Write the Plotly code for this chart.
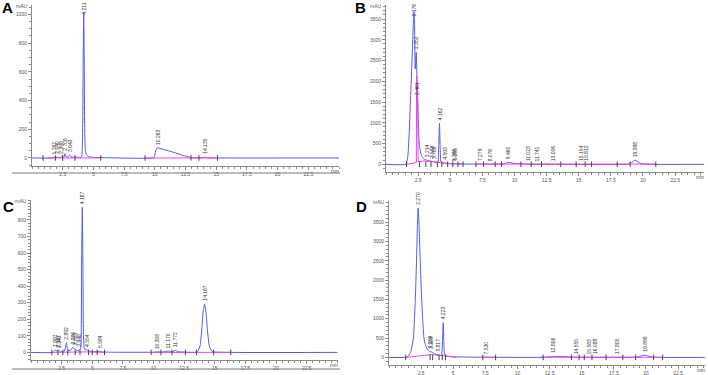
import numpy as np
import plotly.graph_objects as go

W, H = 708, 375

# ---------------- Panel A ----------------
A_t = [0, 1.6, 1.77, 1.9, 2.04, 2.2, 2.40, 2.55, 2.62, 2.70, 2.78, 2.9, 2.98, 3.05, 3.15, 3.4, 3.7, 4.0, 4.08, 4.13, 4.17, 4.21, 4.25, 4.29, 4.34, 4.42, 4.6, 5.0, 6, 9.9,
       10.0, 10.1, 10.26, 10.6, 11.2, 11.8, 12.4, 12.9, 13.3, 14.0, 14.13, 14.3, 15, 25]
A_y = [0, 0, 5, 2, 6, 2, 8, 3, 10, 30, 8, 6, 15, 20, 8, 6, 5, 4, 30, 250, 700, 1010, 700, 200, 60, 25, 10, 4, 2, 1,
       20, 60, 70, 62, 48, 32, 15, 3, 1, 2, 5, 1, 0, 0]
A_mt = [1.2, 3.0, 4.0, 5.6, None, 9.2, 12.9, 15.0]
A_my = [0, 2, 3, 0, None, 0, 1, 0]
A_marks = [0.9, 1.9, 2.5, 3.5, 5.6, 9.2, 12.95, 13.6, 15.1]
A_labels = [1.767, 2.040, 2.398, 2.708, 3.043, 4.211, 10.263, 14.135]
A_yticks = [0, 200, 400, 600, 800, 1000]

# ---------------- Panel B ----------------
B_t = [0, 1.55, 1.7, 1.8, 1.9, 2.0, 2.08, 2.14, 2.176, 2.22, 2.27, 2.31, 2.352, 2.40, 2.43, 2.461, 2.52, 2.6, 2.74, 2.85,
       3.0, 3.21, 3.4, 3.6, 3.77, 3.95, 4.05, 4.1, 4.162, 4.22, 4.28, 4.4, 4.59, 4.8, 5.29, 5.4, 6.0, 7.0, 7.28, 8.08,
       9.0, 9.3, 9.46, 9.7, 10.2, 11, 12, 18.8, 19.1, 19.388, 19.7, 20.0, 25]
B_y = [0, 0, 200, 700, 1500, 2300, 3000, 3500, 3680, 3400, 2300, 2450, 2700, 2200, 1750, 1600, 900, 450, 225, 160,
       120, 95, 80, 70, 55, 40, 60, 400, 990, 350, 60, 30, 25, 15, 12, 14, 6, 4, 5, 4,
       5, 20, 50, 35, 15, 5, 2, 2, 40, 100, 40, 5, 0]
B_mt = [1.6, 2.2, 2.36, 2.38, 2.40, 2.44, 2.47, 2.5, 3.0, 3.5, 4.0, 4.6, 5.3, 6.0, None, 7.0, 21.0]
B_my = [0, 30, 40, 2120, 2100, 1600, 1550, 60, 80, 65, 40, 25, 10, 0, None, 5, 5]
B_marks = [1.6, 2.6, 3.1, 3.5, 4.0, 4.35, 4.8, 5.2, 5.6, 6.0, 7.0, 7.6, 8.5, 9.0, 10.5, 11.3, 12.1, 13.6, 14.8, 15.5, 16.0, 18.0, 19.0, 21.0]
B_labels = [2.176, 2.352, 2.461, 3.214, 3.598, 3.768, 4.162, 4.593, 5.285, 5.395, 7.279, 8.076, 9.460, 11.023, 11.741, 13.006, 15.154, 15.612, 19.388]
B_yticks = [0, 500, 1000, 1500, 2000, 2500, 3000, 3500]

# ---------------- Panel C ----------------
C_t = [0, 1.8, 1.95, 2.0, 2.08, 2.167, 2.25, 2.343, 2.45, 2.7, 2.8, 2.892, 2.98, 3.1, 3.25, 3.386, 3.47, 3.553, 3.7, 3.85, 3.948, 4.05, 4.1, 4.14,
       4.187, 4.24, 4.28, 4.35, 4.45, 4.554, 4.7, 5.0, 5.4, 5.584, 5.8, 6.5, 10.0, 10.308, 10.6, 11.0, 11.17, 11.4, 11.6, 11.772, 12.0,
       13.4, 13.6, 13.8, 13.95, 14.05, 14.167, 14.3, 14.4, 14.55, 14.75, 15.0, 25]
C_y = [0, 0, 12, 15, 8, 12, 6, 10, 5, 5, 25, 58, 20, 10, 15, 30, 22, 25, 12, 10, 15, 20, 120, 600,
       875, 500, 100, 25, 15, 16, 8, 5, 4, 8, 3, 1, 1, 3, 2, 5, 8, 4, 6, 12, 4,
       0, 5, 40, 150, 250, 292, 230, 130, 40, 8, 2, 0]
C_mt = [1.7, 3.0, 4.5, 6.0, None, 9.8, 13.0, 16.3]
C_my = [0, 2, 3, 0, None, 0, 2, 0]
C_marks = [1.7, 2.2, 2.6, 3.0, 3.6, 4.0, 4.7, 5.0, 5.4, 6.0, 9.8, 10.6, 11.5, 12.6, 13.5, 14.9, 16.3]
C_labels = [1.997, 2.167, 2.343, 2.892, 3.386, 3.553, 3.948, 4.187, 4.554, 5.584, 10.308, 11.170, 11.772, 14.167]
C_yticks = [0, 100, 200, 300, 400, 500, 600, 700, 800]

# ---------------- Panel D ----------------
D_t = [0, 1.3, 1.5, 1.7, 1.9, 2.05, 2.15, 2.22, 2.27, 2.33, 2.42, 2.52, 2.62, 2.72, 2.85, 3.0, 3.209, 3.309, 3.5, 3.817, 4.0, 4.1,
       4.17, 4.223, 4.27, 4.33, 4.45, 4.7, 5.2, 6.0, 7.0, 7.53, 8.0, 12.2, 12.5, 12.806, 13.3, 13.8, 14.2, 14.555, 15.0,
       15.583, 16.088, 17.0, 17.805, 19.2, 19.6, 19.899, 20.2, 20.6, 25]
D_y = [0, 0, 30, 150, 500, 1500, 2600, 3500, 3860, 3500, 2600, 1700, 1000, 500, 300, 200, 150, 140, 100, 60, 50, 80,
       500, 900, 400, 70, 40, 25, 15, 8, 5, 6, 3, 3, 20, 25, 25, 15, 5, 4, 3,
       3, 3, 2, 3, 3, 30, 60, 30, 3, 0]
D_mt = [1.3, 2.0, 2.7, 3.3, 3.8, 4.2, 4.6, 5.2, None, 7.2, 8.3, None, 11.8, 21.3]
D_my = [0, 30, 60, 70, 60, 40, 20, 0, None, 5, 2, None, 5, 3]
D_marks = [1.3, 3.2, 3.4, 3.9, 4.15, 4.4, 7.3, 8.3, 12.0, 14.2, 14.8, 15.2, 15.8, 16.9, 18.2, 19.2, 20.6, 21.3]
D_labels = [2.270, 3.209, 3.309, 3.817, 4.223, 7.530, 12.806, 14.555, 15.583, 16.088, 17.805, 19.899]
D_yticks = [0, 500, 1000, 1500, 2000, 2500, 3000, 3500]

XTICKS = [2.5, 5, 7.5, 10, 12.5, 15, 17.5, 20, 22.5]

BLUE = "#5555f5"
MAG = "#f040f0"
AX = "#8a8a8a"
TXT = "#555555"
FONT = "Liberation Sans"

panels = [
    dict(name="A", t=A_t, y=A_y, mt=A_mt, my=A_my, marks=A_marks, labels=A_labels, yt=A_yticks,
         px=(32, 339), py=(5, 166), xr=[0, 25.0], yr=[-56, 1066], yminor=50, letter=(7, 8)),
    dict(name="B", t=B_t, y=B_y, mt=B_mt, my=B_my, marks=B_marks, labels=B_labels, yt=B_yticks,
         px=(386, 704), py=(5, 172), xr=[0, 24.75], yr=[-186, 3838], yminor=100, letter=(360, 8)),
    dict(name="C", t=C_t, y=C_y, mt=C_mt, my=C_my, marks=C_marks, labels=C_labels, yt=C_yticks,
         px=(31, 338), py=(200, 360), xr=[0, 25.05], yr=[-46, 920], yminor=20, letter=(8, 206)),
    dict(name="D", t=D_t, y=D_y, mt=D_mt, my=D_my, marks=D_marks, labels=D_labels, yt=D_yticks,
         px=(389, 705), py=(201, 365), xr=[0, 24.6], yr=[-197, 4046], yminor=100, letter=(361, 206)),
]

fig = go.Figure()
annotations = []
layout = {}

for i, p in enumerate(panels):
    k = "" if i == 0 else str(i + 1)
    xa, ya = "x" + k, "y" + k
    xdom = [p["px"][0] / W, p["px"][1] / W]
    ydom = [1 - p["py"][1] / H, 1 - p["py"][0] / H]
    layout["xaxis" + k] = dict(
        domain=xdom, range=p["xr"], anchor=ya, showgrid=False, zeroline=False,
        showline=True, linecolor=AX, linewidth=1, ticks="outside", ticklen=3, tickcolor=AX,
        tickvals=XTICKS, tickfont=dict(size=5, color=TXT, family=FONT),
        minor=dict(ticks="outside", ticklen=2, tickcolor=AX, dtick=0.5),
        fixedrange=True)
    layout["yaxis" + k] = dict(
        domain=ydom, range=p["yr"], anchor=xa, showgrid=False, zeroline=False,
        showline=True, linecolor=AX, linewidth=1, ticks="outside", ticklen=3, tickcolor=AX,
        tickvals=p["yt"], tickfont=dict(size=5, color=TXT, family=FONT),
        minor=dict(ticks="outside", ticklen=2, tickcolor=AX, dtick=p["yminor"]),
        fixedrange=True)

    fig.add_trace(go.Scatter(x=p["t"], y=p["y"], mode="lines", xaxis=xa, yaxis=ya,
                             line=dict(color=BLUE, width=1, shape="spline", smoothing=0.4),
                             showlegend=False, hoverinfo="skip"))
    fig.add_trace(go.Scatter(x=p["mt"], y=p["my"], mode="lines", xaxis=xa, yaxis=ya,
                             line=dict(color=MAG, width=1), showlegend=False, hoverinfo="skip",
                             connectgaps=False))
    fig.add_trace(go.Scatter(x=p["marks"], y=[0] * len(p["marks"]), mode="markers", xaxis=xa, yaxis=ya,
                             marker=dict(symbol="line-ns", size=4, line=dict(width=1, color="#444444")),
                             showlegend=False, hoverinfo="skip"))

    t_arr = np.array(p["t"], dtype=float)
    y_arr = np.array(p["y"], dtype=float)
    y0r, y1r = p["yr"]
    for lab in p["labels"]:
        yy = float(np.interp(lab, t_arr, y_arr))
        txt = f"{lab:.3f}"
        peak_px = p["py"][0] + (y1r - yy) / (y1r - y0r) * (p["py"][1] - p["py"][0])
        lab_len = len(txt) * 2.9
        if peak_px - 2 - lab_len < 1:
            annotations.append(dict(x=lab, y=1 - 1 / H, xref=xa, yref="paper", text=txt, showarrow=False,
                                    textangle=-90, xanchor="center", yanchor="top",
                                    font=dict(size=5, color="#333333", family=FONT)))
        else:
            annotations.append(dict(x=lab, y=yy, xref=xa, yref=ya, text=txt, showarrow=False,
                                    textangle=-90, xanchor="center", yanchor="bottom", yshift=1,
                                    font=dict(size=5, color="#333333", family=FONT)))
    annotations.append(dict(x=xdom[0] - 2 / W, y=1 - (p["py"][0] + 1) / H, xref="paper", yref="paper",
                            text="mAU", showarrow=False, xanchor="right", yanchor="middle",
                            font=dict(size=5, color=TXT, family=FONT)))
    annotations.append(dict(x=xdom[1] - 4 / W, y=1 - (p["py"][1] + 5) / H, xref="paper", yref="paper",
                            text="min", showarrow=False, xanchor="center", yanchor="middle",
                            font=dict(size=5, color=TXT, family=FONT)))
    annotations.append(dict(x=p["letter"][0] / W, y=1 - p["letter"][1] / H, xref="paper", yref="paper",
                            text=f"<b>{p['name']}</b>", showarrow=False, xanchor="center", yanchor="middle",
                            font=dict(size=15, color="black", family=FONT)))

shapes = [
    dict(type="line", xref="paper", yref="paper", x0=12 / W, x1=340 / W, y0=1 - 173 / H, y1=1 - 173 / H,
         line=dict(color="#777777", width=1)),
    dict(type="line", xref="paper", yref="paper", x0=12 / W, x1=340 / W, y0=1 - 369 / H, y1=1 - 369 / H,
         line=dict(color="#777777", width=1)),
]

fig.update_layout(width=W, height=H, margin=dict(l=0, r=0, t=0, b=0),
                  paper_bgcolor="white", plot_bgcolor="white",
                  annotations=annotations, shapes=shapes, **layout)

fig.write_html("out.html")
